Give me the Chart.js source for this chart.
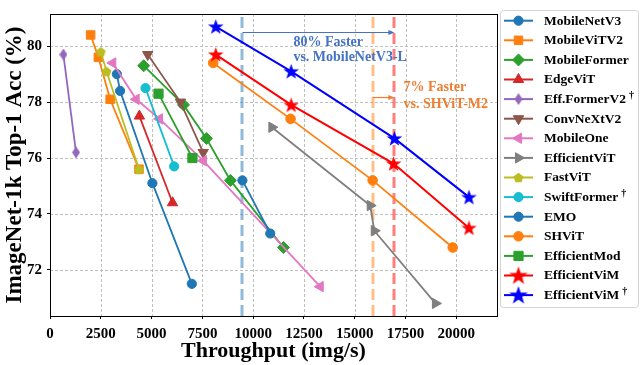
<!DOCTYPE html>
<html><head><meta charset="utf-8">
<script src="https://cdn.jsdelivr.net/npm/chart.js@4.4.0/dist/chart.umd.min.js"></script>
<style>html,body{margin:0;padding:0;background:#fff}#wrap{width:640px;height:365px;position:relative}</style>
</head><body><div id="wrap"><canvas id="c" width="640" height="365"></canvas></div>
<script>
// ---- data (throughput img/s, top-1 acc %) ----
const mobileNetV3   = [[3290,79.0],[3450,78.4],[5040,75.1],[6980,71.5]];
const mobileViTV2   = [[2000,80.4],[2380,79.6],[2960,78.1],[4380,75.6]];
const mobileFormer  = [[4610,79.3],[6570,77.9],[7700,76.7],[8880,75.2],[11490,72.8]];
const edgeViT       = [[4400,77.5],[6030,74.4]];
const effFormerV2   = [[660,79.7],[1280,76.2]];
const convNeXtV2    = [[4810,79.7],[6420,78.0],[7540,76.2]];
const mobileOne     = [[3090,79.4],[4240,78.1],[5390,77.4],[7550,75.9],[13300,71.4]];
const efficientViT  = [[10920,77.1],[15760,74.3],[15960,73.4],[18970,70.8]];
const fastViT       = [[2500,79.8],[2780,79.1],[4380,75.6]];
const swiftFormer   = [[4700,78.5],[6110,75.7]];
const emo           = [[9470,75.2],[10840,73.3]];
const shvit         = [[8030,79.4],[11840,77.4],[15880,75.2],[19820,72.8]];
const efficientMod  = [[5340,78.3],[7010,76.0]];
const efficientViM  = [[8160,79.7],[11870,77.9],[16910,75.8],[20620,73.5]];
const efficientViMD = [[8160,80.7],[11870,79.1],[16950,76.7],[20620,74.6]];

const seriesLabels = ['MobileNetV3','MobileViTV2','MobileFormer','EdgeViT','Eff.FormerV2','ConvNeXtV2','MobileOne','EfficientViT','FastViT','SwiftFormer','EMO','SHViT','EfficientMod','EfficientViM','EfficientViM'];
const daggers      = [false,false,false,false,true,false,false,false,false,true,false,false,false,false,true];
const seriesData   = [mobileNetV3,mobileViTV2,mobileFormer,edgeViT,effFormerV2,convNeXtV2,mobileOne,efficientViT,fastViT,swiftFormer,emo,shvit,efficientMod,efficientViM,efficientViMD];

const xTicks = [0,2500,5000,7500,10000,12500,15000,17500,20000];
const yTicks = [72,74,76,78,80];
const refLines = [9470,15880,16950];          // vertical reference throughputs
const annotArrow1 = [9470,16950,80.52];       // from, to, acc
const annotArrow2 = [15880,16950,78.19];

// ---- styles ----
const colors = ['#1f77b4','#ff7f0e','#2ca02c','#d62728','#9467bd','#8c564b','#e377c2','#7f7f7f','#bcbd22','#17becf','#1f77b4','#ff7f0e','#2ca02c','#ff0000','#0000ff'];

function polyCanvas(color, w, h, pts){
  const c=document.createElement('canvas'); c.width=w; c.height=h;
  const g=c.getContext('2d'); g.fillStyle=color; g.beginPath();
  pts.forEach((p,i)=>i?g.lineTo(p[0],p[1]):g.moveTo(p[0],p[1])); g.closePath(); g.fill();
  return c;
}
function star(color,size){
  const R=size/2-0.3, r=R*0.4, cx=size/2, cy=size/2+0.6, pts=[];
  for(let i=0;i<10;i++){const a=-Math.PI/2+i*Math.PI/5, rr=i%2?r:R; pts.push([cx+rr*Math.cos(a),cy+rr*Math.sin(a)]);}
  return polyCanvas(color,size,size,pts);
}
function pentagon(color,size){
  const R=size/2-0.3, cx=size/2, cy=size/2+0.5, pts=[];
  for(let i=0;i<5;i++){const a=-Math.PI/2+i*2*Math.PI/5; pts.push([cx+R*Math.cos(a),cy+R*Math.sin(a)]);}
  return polyCanvas(color,size,size,pts);
}
function thinDiamond(color,w,h){ return polyCanvas(color,w,h,[[w/2,0],[w,h/2],[w/2,h],[0,h/2]]); }

const pstyles = [
  {s:'circle',r:4.6},{s:'rect',r:6},{s:'rectRot',r:6},{s:'triangle',r:6},
  {s:thinDiamond('#9467bd',8,12),r:6},{s:'triangle',r:6,rot:180},{s:'triangle',r:6,rot:-90},
  {s:'triangle',r:6,rot:90},{s:pentagon('#bcbd22',11),r:6},{s:'circle',r:4.6},{s:'circle',r:4.6},
  {s:'circle',r:4.8},{s:'rect',r:6.5},{s:star('#ff0000',17),r:8},{s:star('#0000ff',17),r:8}
];

const N = seriesData.length;
const datasets = seriesData.map((d,i)=>({
  label: seriesLabels[i],
  data: d.map(p=>({x:p[0],y:p[1]})),
  showLine:true,
  borderColor: colors[i], backgroundColor: colors[i],
  pointBackgroundColor: colors[i], pointBorderColor: colors[i],
  borderWidth: (i>=13?2:1.8), pointBorderWidth:1,
  pointStyle: pstyles[i].s, pointRadius: pstyles[i].r, pointRotation: pstyles[i].rot||0,
  pointHoverRadius: pstyles[i].r,
  order: N - i
}));

const FONT = "'Liberation Serif','Times New Roman',serif";

const decor = {
  id:'decor',
  beforeDatasetsDraw(chart){
    const {ctx, chartArea:a, scales:{x,y}} = chart;
    ctx.save();
    // dashed grid
    ctx.strokeStyle='#b0b0b0'; ctx.lineWidth=0.8; ctx.setLineDash([3,2]);
    xTicks.forEach(v=>{ if(v===0) return; const px=Math.round(x.getPixelForValue(v))+0.5;
      ctx.beginPath(); ctx.moveTo(px,a.top); ctx.lineTo(px,a.bottom); ctx.stroke(); });
    yTicks.forEach(v=>{ const py=Math.round(y.getPixelForValue(v))+0.5;
      ctx.beginPath(); ctx.moveTo(a.left,py); ctx.lineTo(a.right,py); ctx.stroke(); });
    // vertical reference lines
    const lc = ['rgba(31,119,180,0.5)','rgba(255,127,14,0.5)','rgba(255,0,0,0.5)'];
    ctx.lineWidth=3; ctx.setLineDash([11,5]);
    refLines.forEach((v,i)=>{ const px=Math.round(x.getPixelForValue(v)); ctx.strokeStyle=lc[i];
      ctx.beginPath(); ctx.moveTo(px,a.bottom); ctx.lineTo(px,a.top); ctx.stroke(); });
    ctx.restore();
  },
  afterDatasetsDraw(chart){
    const {ctx, chartArea:a, scales:{x,y}} = chart;
    ctx.save();
    function arrow(spec,color){
      const x1=x.getPixelForValue(spec[0]), x2=x.getPixelForValue(spec[1]), py=Math.round(y.getPixelForValue(spec[2]))+0.5;
      ctx.strokeStyle=color; ctx.fillStyle=color; ctx.lineWidth=1.2;
      ctx.beginPath(); ctx.moveTo(x1,py); ctx.lineTo(x2-5,py); ctx.stroke();
      ctx.beginPath(); ctx.moveTo(x2,py); ctx.lineTo(x2-6,py-2.5); ctx.lineTo(x2-6,py+2.5); ctx.closePath(); ctx.fill();
    }
    arrow(annotArrow1,'#4472c4');
    arrow(annotArrow2,'#ed7d31');
    ctx.font = "bold 14px "+FONT; ctx.textBaseline='middle'; ctx.textAlign='left';
    ctx.fillStyle='#4472c4';
    ctx.fillText('80% Faster', x.getPixelForValue(11980), y.getPixelForValue(80.14));
    ctx.fillText('vs. MobileNetV3-L', x.getPixelForValue(11980), y.getPixelForValue(79.59));
    ctx.fillStyle='#ed7d31';
    ctx.fillText('7% Faster', x.getPixelForValue(17400), y.getPixelForValue(78.52));
    ctx.fillText('vs. SHViT-M2', x.getPixelForValue(17400), y.getPixelForValue(77.93));
    // frame
    ctx.strokeStyle='#000'; ctx.lineWidth=1;
    ctx.strokeRect(Math.round(a.left)+0.5, Math.round(a.top)+0.5, Math.round(a.right-a.left), Math.round(a.bottom-a.top));
    ctx.restore();
  },
  afterDraw(chart){
    const ctx=chart.ctx;
    ctx.save();
    // legend box
    const bx=500.5, by=10.5, bw=138, bh=297, rr=3;
    ctx.beginPath();
    ctx.moveTo(bx+rr,by); ctx.lineTo(bx+bw-rr,by); ctx.quadraticCurveTo(bx+bw,by,bx+bw,by+rr);
    ctx.lineTo(bx+bw,by+bh-rr); ctx.quadraticCurveTo(bx+bw,by+bh,bx+bw-rr,by+bh);
    ctx.lineTo(bx+rr,by+bh); ctx.quadraticCurveTo(bx,by+bh,bx,by+bh-rr);
    ctx.lineTo(bx,by+rr); ctx.quadraticCurveTo(bx,by,bx+rr,by); ctx.closePath();
    ctx.fillStyle='#fff'; ctx.fill(); ctx.strokeStyle='#d4d4d4'; ctx.lineWidth=1; ctx.stroke();
    chart.data.datasets.forEach((ds,i)=>{
      const yy = 20.7 + i*19.6;
      ctx.strokeStyle=ds.borderColor; ctx.lineWidth=2; ctx.setLineDash([]);
      ctx.beginPath(); ctx.moveTo(504,yy); ctx.lineTo(533,yy); ctx.stroke();
      ctx.fillStyle=ds.pointBackgroundColor; ctx.strokeStyle=ds.pointBorderColor; ctx.lineWidth=1;
      const isStar = i>=13;
      Chart.helpers.drawPoint(ctx,{pointStyle: isStar? star(colors[i],20): ds.pointStyle, rotation: ds.pointRotation, radius: ds.pointRadius, borderWidth:1}, 518.5, yy);
      ctx.fillStyle='#000'; ctx.font="bold 13.5px "+FONT; ctx.textBaseline='middle'; ctx.textAlign='left';
      ctx.fillText(ds.label,544,yy+0.5);
      if(daggers[i]){ const w=ctx.measureText(ds.label).width; ctx.font="bold 10px "+FONT; ctx.fillText('\u2020',544+w+3,yy-4); }
    });
    ctx.restore();
  }
};

new Chart(document.getElementById('c'),{
  type:'scatter',
  data:{datasets},
  options:{
    responsive:false, animation:false, devicePixelRatio:1,
    layout:{padding:{left:0,right:143,top:2,bottom:0}},
    plugins:{legend:{display:false},tooltip:{enabled:false}},
    scales:{
      x:{type:'linear',min:0,max:22000,
        afterBuildTicks(s){s.ticks=xTicks.map(v=>({value:v}));},
        afterFit(s){s.height=49;},
        ticks:{color:'#000',font:{family:FONT,size:15,weight:'bold'},padding:6,maxRotation:0,callback:v=>String(v)},
        grid:{drawOnChartArea:false,color:'#000',tickColor:'#000',tickLength:3,drawTicks:true},
        border:{display:true,color:'#000',width:1},
        title:{display:true,text:'Throughput (img/s)',color:'#000',font:{family:FONT,size:22,weight:'bold'},padding:{top:0,bottom:0}}
      },
      y:{type:'linear',min:70.35,max:81.15,
        afterBuildTicks(s){s.ticks=yTicks.map(v=>({value:v}));},
        afterFit(s){s.width=50;},
        ticks:{color:'#000',font:{family:FONT,size:15,weight:'bold'},padding:5,callback:v=>String(v)},
        grid:{drawOnChartArea:false,color:'#000',tickColor:'#000',tickLength:3,drawTicks:true},
        border:{display:true,color:'#000',width:1},
        title:{display:true,text:'ImageNet-1k Top-1 Acc (%)',color:'#000',font:{family:FONT,size:23,weight:'bold'},padding:{top:1,bottom:0}}
      }
    }
  },
  plugins:[decor]
});
</script></body></html>
